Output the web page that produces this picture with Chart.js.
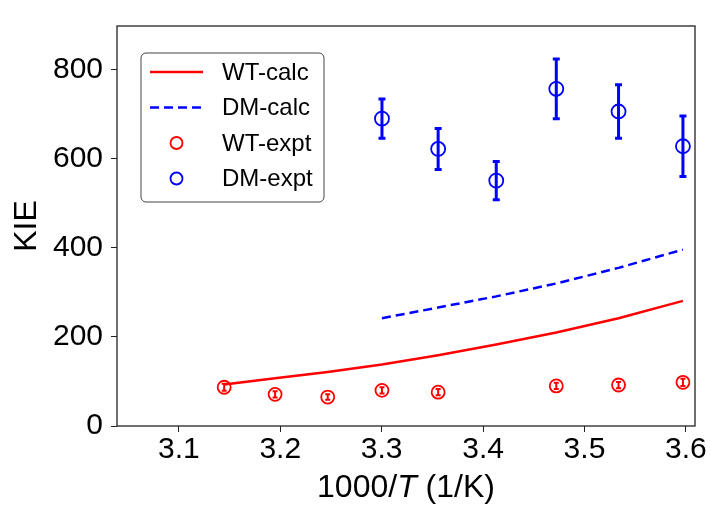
<!DOCTYPE html>
<html>
<head>
<meta charset="utf-8">
<script src="https://cdn.jsdelivr.net/npm/chart.js@4.4.1/dist/chart.umd.min.js"></script>
<style>
  html, body { margin: 0; padding: 0; background: #fff; }
</style>
</head>
<body>
<canvas id="kieChart" width="711" height="506"></canvas>
<script>
/* --- Data --------------------------------------------------------------- */
const calcX     = [3.1447, 3.1949, 3.2468, 3.3003, 3.3557, 3.4130, 3.4722, 3.5336, 3.5971];
const wtCalc    = [93, 107, 121, 138, 159, 183, 210, 242, 281];
const dmCalcX   = [3.3003, 3.3557, 3.4130, 3.4722, 3.5336, 3.5971];
const dmCalc    = [242, 266, 291, 320, 355, 396];
const wtExptX   = [3.1447, 3.1949, 3.2468, 3.3003, 3.3557, 3.4722, 3.5336, 3.5971];
const wtExpt    = [87, 71, 65, 80, 76, 90, 92, 98];
const wtExptErr = [8, 7, 6, 7, 7, 7, 7, 8];
const dmExptX   = [3.3003, 3.3557, 3.4130, 3.4722, 3.5336, 3.5971];
const dmExpt    = [690, 622, 551, 757, 706, 628];
const dmExptErr = [44, 46, 43, 67, 60, 68];
const xTicks    = [3.1, 3.2, 3.3, 3.4, 3.5, 3.6];
const yTicks    = [0, 200, 400, 600, 800];

const FONT = "'Liberation Sans', Arial, sans-serif";
const pts = (xs, ys) => xs.map((x, i) => ({ x: x, y: ys[i] }));

/* --- Plugins ------------------------------------------------------------ */
// error bars, drawn through the scales
const errorBars = {
  id: 'errorBars',
  afterDatasetsDraw(chart) {
    const { ctx, scales: { x, y } } = chart;
    chart.data.datasets.forEach(ds => {
      if (!ds.errors) return;
      ctx.save();
      ctx.strokeStyle = ds.borderColor;
      ctx.lineWidth = ds.errWidth;
      ds.data.forEach((p, i) => {
        const px = x.getPixelForValue(p.x);
        const top = y.getPixelForValue(p.y + ds.errors[i]);
        const bot = y.getPixelForValue(p.y - ds.errors[i]);
        ctx.beginPath();
        ctx.moveTo(px, top); ctx.lineTo(px, bot);
        ctx.moveTo(px - ds.capHalf, top); ctx.lineTo(px + ds.capHalf, top);
        ctx.moveTo(px - ds.capHalf, bot); ctx.lineTo(px + ds.capHalf, bot);
        ctx.stroke();
      });
      ctx.restore();
    });
  }
};

// full box around the plot + x title with italic T + legend box
const decor = {
  id: 'decor',
  afterDraw(chart) {
    const { ctx, chartArea: a } = chart;
    ctx.save();
    ctx.strokeStyle = '#222';
    ctx.lineWidth = 1.3;
    ctx.strokeRect(a.left, a.top, a.right - a.left, a.bottom - a.top);

    // x title
    ctx.fillStyle = '#000';
    ctx.textBaseline = 'middle';
    const parts = [['1000/', ''], ['T', 'italic '], [' (1/K)', '']];
    let w = 0;
    parts.forEach(p => { ctx.font = p[1] + '32px ' + FONT; w += ctx.measureText(p[0]).width; });
    let tx = (a.left + a.right) / 2 - w / 2;
    parts.forEach(p => {
      ctx.font = p[1] + '32px ' + FONT;
      ctx.fillText(p[0], tx, 488);
      tx += ctx.measureText(p[0]).width;
    });

    // legend
    const lx = 141, ly = 53, lw = 183, lh = 149, r = 5;
    ctx.beginPath();
    ctx.moveTo(lx + r, ly);
    ctx.arcTo(lx + lw, ly, lx + lw, ly + lh, r);
    ctx.arcTo(lx + lw, ly + lh, lx, ly + lh, r);
    ctx.arcTo(lx, ly + lh, lx, ly, r);
    ctx.arcTo(lx, ly, lx + lw, ly, r);
    ctx.closePath();
    ctx.fillStyle = 'rgba(255,255,255,0.85)';
    ctx.fill();
    ctx.strokeStyle = '#444';
    ctx.lineWidth = 1;
    ctx.stroke();

    chart.data.datasets.forEach((ds, i) => {
      const cy = 72 + i * 35.5;
      ctx.strokeStyle = ds.borderColor;
      if (ds.showLine) {
        ctx.lineWidth = ds.borderWidth;
        ctx.setLineDash(ds.borderDash || []);
        ctx.beginPath();
        ctx.moveTo(150, cy); ctx.lineTo(203, cy);
        ctx.stroke();
        ctx.setLineDash([]);
      } else {
        ctx.lineWidth = 1.8;
        ctx.beginPath();
        ctx.arc(176.5, cy, 6, 0, Math.PI * 2);
        ctx.stroke();
      }
      ctx.fillStyle = '#000';
      ctx.font = '24px ' + FONT;
      ctx.textBaseline = 'middle';
      ctx.fillText(ds.label, 222, cy + 1);
    });
    ctx.restore();
  }
};

/* --- Chart -------------------------------------------------------------- */
const ctx = document.getElementById('kieChart').getContext('2d');
const chart = new Chart(ctx, {
  type: 'scatter',
  data: { datasets: [
    { label: 'WT-calc', data: pts(calcX, wtCalc), showLine: true, borderColor: '#ff0000',
      borderWidth: 2.5, pointRadius: 0, tension: 0 },
    { label: 'DM-calc', data: pts(dmCalcX, dmCalc), showLine: true, borderColor: '#0000ff',
      borderWidth: 2.5, borderDash: [9, 5], pointRadius: 0, tension: 0 },
    { label: 'WT-expt', data: pts(wtExptX, wtExpt), showLine: false, borderColor: '#ff0000',
      backgroundColor: 'rgba(0,0,0,0)', pointRadius: 6.5, borderWidth: 1.8,
      errors: wtExptErr, errWidth: 2, capHalf: 2.5 },
    { label: 'DM-expt', data: pts(dmExptX, dmExpt), showLine: false, borderColor: '#0000ff',
      backgroundColor: 'rgba(0,0,0,0)', pointRadius: 7, borderWidth: 1.8,
      errors: dmExptErr, errWidth: 3, capHalf: 3.5 }
  ]},
  options: {
    responsive: false,
    animation: false,
    layout: { padding: { top: 11, right: 16, left: 0, bottom: 0 } },
    plugins: { legend: { display: false }, tooltip: { enabled: false } },
    scales: {
      x: {
        type: 'linear', min: 3.039, max: 3.609,
        afterBuildTicks: s => { s.ticks = xTicks.map(v => ({ value: v })); },
        afterFit: s => { s.height = 80; },
        ticks: { color: '#000', font: { family: FONT, size: 30 }, padding: 0,
                 callback: v => v.toFixed(1), maxRotation: 0 },
        grid: { drawOnChartArea: false, drawTicks: true, tickLength: 6, color: '#222' },
        border: { display: false }
      },
      y: {
        type: 'linear', min: 0, max: 898,
        afterBuildTicks: s => { s.ticks = yTicks.map(v => ({ value: v })); },
        afterFit: s => { s.width = 117; },
        ticks: { color: '#000', font: { family: FONT, size: 30 }, padding: 8 },
        grid: { drawOnChartArea: false, drawTicks: true, tickLength: 6, color: '#222' },
        border: { display: false },
        title: { display: true, text: 'KIE', color: '#000',
                 font: { family: FONT, size: 32 }, padding: { top: 8, bottom: 0 } }
      }
    }
  },
  plugins: [errorBars, decor]
});
</script>
</body>
</html>
